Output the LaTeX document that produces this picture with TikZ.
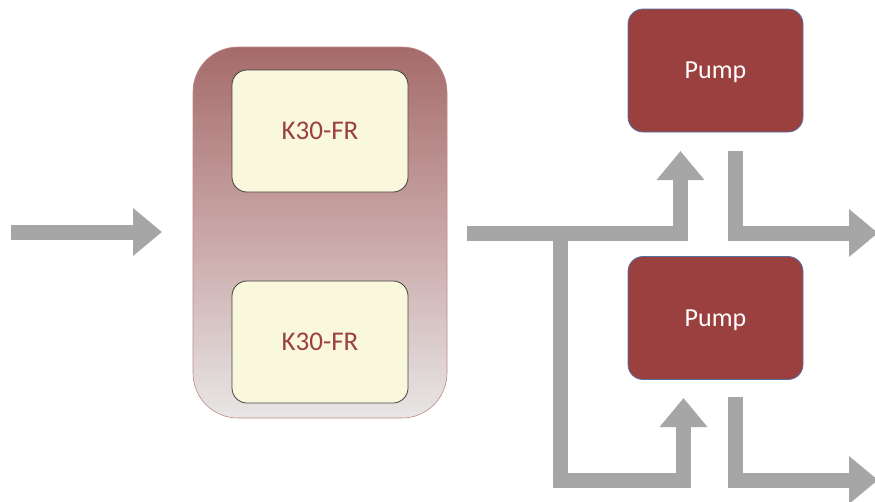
\documentclass[tikz,border=0pt]{standalone}
\usepackage{fontspec}
\setmainfont{Carlito}
\usetikzlibrary{arrows.meta}
\definecolor{pumpred}{HTML}{9A403F}
\definecolor{pumpedge}{HTML}{5570A0}
\definecolor{flowgray}{HTML}{A6A6A6}
\definecolor{boxfill}{HTML}{FAF8DC}
\definecolor{gradtop}{HTML}{A56B6A}
\definecolor{gradmid}{HTML}{C9A6A6}
\definecolor{gradbot}{HTML}{E8E6E6}
\definecolor{contedge}{HTML}{C08787}
\begin{document}
\begin{tikzpicture}[x=1pt,y=-1pt,
  pumpbox/.style={draw=pumpedge,line width=0.8pt,fill=pumpred,rounded corners=15pt,
    minimum width=175pt,minimum height=123pt,text=white,font=\fontsize{26}{30}\selectfont,inner sep=0pt},
  reactor/.style={draw=black!75,line width=0.8pt,fill=boxfill,rounded corners=15pt,
    minimum width=176pt,minimum height=122pt,text=pumpred,font=\fontsize{27}{31}\selectfont,inner sep=0pt},
  flow/.style={draw=flowgray,line width=15pt,line join=miter,
    -{Triangle[length=29pt,width=46pt]}},
  pipe/.style={draw=flowgray,line width=15pt,line join=miter}]
\useasboundingbox (0,0) rectangle (875,501);
% container
\shade[top color=gradtop,bottom color=gradbot,middle color=gradmid,rounded corners=45pt]
  (193,47) rectangle (447,418);
\draw[contedge,line width=0.6pt,rounded corners=45pt] (193,47) rectangle (447,418);
\node[reactor] (r1) at (320,131) {K30-FR};
\node[reactor] (r2) at (320,342) {K30-FR};
\node[pumpbox] (p1) at (715.5,70.5) {};
\node[pumpbox] (p2) at (715.5,318) {};
\node[text=white,font=\fontsize{26}{30}\selectfont,inner sep=0pt] (t1) at ([yshift=-2pt]p1.center) {Pump};
\node[text=white,font=\fontsize{26}{30}\selectfont,inner sep=0pt] (t2) at ([yshift=-2pt]p2.center) {Pump};
% coordinates
\coordinate (inS) at (11,232);
\coordinate (inE) at (162,232);
\coordinate (outS) at (467,233);
\coordinate (split) at (560,233);
\coordinate (p1in) at (680.5,151);
\coordinate (p2in) at (683.5,398);
\coordinate (low) at (560,480);
\coordinate (p1out) at (735,151);
\coordinate (p1end) at (878,233);
\coordinate (p2out) at (735.5,397);
\coordinate (p2end) at (878,480);
% flows
\draw[flow] (inS) -- (inE);
\draw[flow] (outS) -| (p1in);
\draw[pipe] (split) -- ([yshift=-7.5pt]low);
\draw[flow] ([xshift=-7.5pt]low) -| (p2in);
\draw[flow] (p1out) |- (p1end);
\draw[flow] (p2out) |- (p2end);
\end{tikzpicture}
\end{document}
